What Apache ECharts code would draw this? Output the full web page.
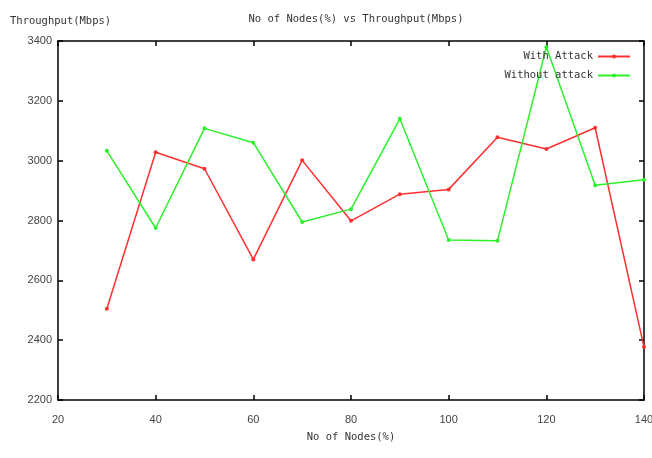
<!DOCTYPE html>
<html><head><meta charset="utf-8">
<script src="https://cdn.jsdelivr.net/npm/echarts@6/dist/echarts.min.js"></script>
<style>html,body{margin:0;padding:0;background:#fff}#c{width:652px;height:458px}</style>
</head><body><div id="c"></div>
<script>
const nodes = [30, 40, 50, 60, 70, 80, 90, 100, 110, 120, 130, 140];
const withAttack = [2505, 3028, 2973, 2670, 3001, 2799, 2888, 2904, 3078, 3039, 3110, 2377];
const withoutAttack = [3033, 2775, 3108, 3060, 2795, 2838, 3140, 2735, 2732, 3380, 2918, 2936];
const seriesNames = ['With Attack', 'Without attack'];
const seriesColors = ['#ff3030', '#2cf02c'];

const mono = 'DejaVu Sans Mono';
const tickStyle = {inside: true, length: 5, lineStyle: {color: '#000', width: 1.5}};
const lineStyle = {color: '#000', width: 1.5};
const chart = echarts.init(document.getElementById('c'));
const mk = (name, vals, color) => ({
  name, type: 'line', data: nodes.map((x, i) => [x, vals[i]]),
  symbol: 'circle', symbolSize: 4, itemStyle: {color},
  lineStyle: {color, width: 1.5}, animation: false
});
chart.setOption({
  animation: false,
  title: {text: 'No of Nodes(%) vs Throughput(Mbps)', left: 351, textAlign: 'center', top: 9,
    textStyle: {fontFamily: mono, fontSize: 10.5, fontWeight: 'normal', color: '#333'}},
  grid: {left: 58, right: 8, top: 41, bottom: 58, containLabel: false, outerBoundsMode: 'none'},
  legend: {orient: 'vertical', right: 16, top: 46, align: 'right', itemWidth: 32, itemHeight: 5, itemGap: 8,
    textStyle: {fontFamily: mono, fontSize: 10.5, color: '#333'},
    data: seriesNames},
  xAxis: [{type: 'value', min: 20, max: 140, interval: 20,
    name: 'No of Nodes(%)', nameLocation: 'middle', nameGap: 32,
    nameTextStyle: {fontFamily: mono, fontSize: 10.5, color: '#333'},
    axisLine: {lineStyle}, axisTick: tickStyle, splitLine: {show: false},
    axisLabel: {fontFamily: 'Liberation Sans', fontSize: 11, color: '#444', margin: 14, hideOverlap: false}},
    {type: 'value', position: 'top', min: 20, max: 140, interval: 20,
    axisLine: {lineStyle}, axisTick: tickStyle, splitLine: {show: false}, axisLabel: {show: false}}],
  yAxis: [{type: 'value', min: 2200, max: 3400, interval: 200,
    name: 'Throughput(Mbps)', nameLocation: 'end', nameGap: 14,
    nameTextStyle: {fontFamily: mono, fontSize: 10.5, color: '#333', align: 'left', padding: [0, 0, 0, -48]},
    axisLine: {show: true, lineStyle}, axisTick: {show: true, ...tickStyle}, splitLine: {show: false},
    axisLabel: {fontFamily: 'Liberation Sans', fontSize: 11, color: '#444', margin: 6, formatter: v => String(v)}},
    {type: 'value', position: 'right', min: 2200, max: 3400, interval: 200,
    axisLine: {show: true, lineStyle}, axisTick: {show: true, ...tickStyle}, splitLine: {show: false}, axisLabel: {show: false}}],
  series: [mk(seriesNames[0], withAttack, seriesColors[0]), mk(seriesNames[1], withoutAttack, seriesColors[1])]
});
</script></body></html>
